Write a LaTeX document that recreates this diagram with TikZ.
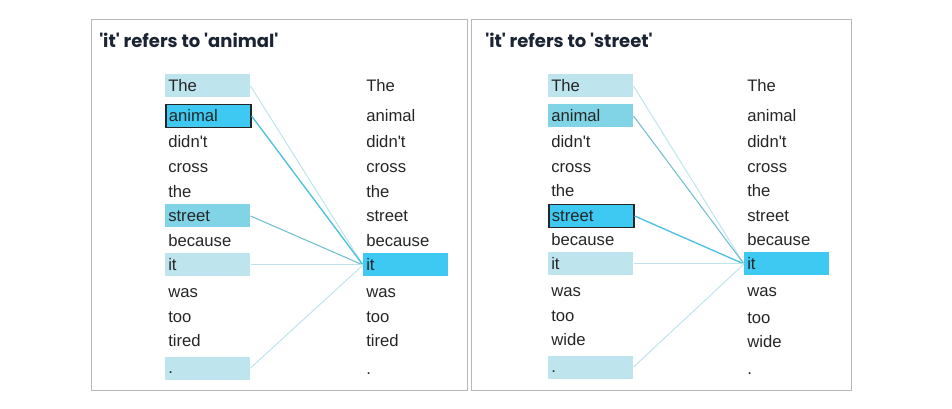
\documentclass[tikz,border=0pt]{standalone}
\usepackage{fontspec}
\setmainfont{Liberation Sans}
\newfontfamily\titlefont{Poppins}
\definecolor{palecyan}{HTML}{BEE5ED}
\definecolor{midcyan}{HTML}{80D4E5}
\definecolor{brightcyan}{HTML}{3DC9F2}
\definecolor{linkcyan}{HTML}{4CC0DF}
\definecolor{titleblue}{HTML}{1B2433}
\newcommand{\sq}{\textquotesingle}
\tikzset{
  panel/.style={draw=black!28,line width=0.75pt},
  heading/.style={anchor=west,inner sep=0pt,text=titleblue,font=\titlefont\bfseries\fontsize{13.5}{16}\selectfont},
  word/.style={anchor=west,inner xsep=2.25pt,inner ysep=2.875pt,text width=59.25pt,align=left,
    text height=10.1pt,text depth=1.4pt,text=black!85,font=\fontsize{12.5}{14}\selectfont},
  chosen/.style={draw=black!85,line width=1.2pt},
  faint/.style={palecyan,line width=0.75pt},
  medium/.style={midcyan!90!black,line width=0.8pt},
  strong/.style={linkcyan,line width=1pt}
}
\begin{document}
\begin{tikzpicture}[x=0.75pt,y=-0.75pt]
\useasboundingbox (0,0) rectangle (952,409);
\draw[panel] (91,20) rectangle (467,390);
\draw[panel] (471,20) rectangle (851,390);
\node[heading] (headA) at (99,40) {\sq it\sq{} refers to \sq animal\sq};
\node[heading] (headB) at (485,40) {\sq it\sq{} refers to \sq street\sq};

% left panel: source column
\node[word,fill=palecyan] (aThe) at (165,86) {The};
\node[word,fill=brightcyan,chosen] (aAnimal) at (165,116) {animal};
\node[word] (aDidnt) at (165,142) {didn\sq t};
\node[word] (aCross) at (165,167) {cross};
\node[word] (aThe2) at (165,192) {the};
\node[word,fill=midcyan] (aStreet) at (165,216) {street};
\node[word] (aBecause) at (165,241) {because};
\node[word,fill=palecyan] (aIt) at (165,265) {it};
\node[word] (aWas) at (165,292) {was};
\node[word] (aToo) at (165,317) {too};
\node[word] (aTired) at (165,341) {tired};
\node[word,fill=palecyan] (aDot) at (165,368) {.};
% left panel: target column
\node[word] (bThe) at (363,86) {The};
\node[word] (bAnimal) at (363,116) {animal};
\node[word] (bDidnt) at (363,142) {didn\sq t};
\node[word] (bCross) at (363,167) {cross};
\node[word] (bThe2) at (363,192) {the};
\node[word] (bStreet) at (363,216) {street};
\node[word] (bBecause) at (363,241) {because};
\node[word,fill=brightcyan] (bIt) at (363,265) {it};
\node[word] (bWas) at (363,292) {was};
\node[word] (bToo) at (363,317) {too};
\node[word] (bTired) at (363,341) {tired};
\node[word] (bDot) at (363,369) {.};
\draw[faint] (aThe.east) -- (bIt.west);
\draw[strong] (aAnimal.east) -- (bIt.west);
\draw[medium] (aStreet.east) -- (bIt.west);
\draw[faint] (aIt.east) -- (bIt.west);
\draw[faint] (aDot.east) -- (bIt.west);

% right panel: source column
\node[word,fill=palecyan] (cThe) at (548,86) {The};
\node[word,fill=midcyan] (cAnimal) at (548,116) {animal};
\node[word] (cDidnt) at (548,142) {didn\sq t};
\node[word] (cCross) at (548,167) {cross};
\node[word] (cThe2) at (548,191) {the};
\node[word,fill=brightcyan,chosen] (cStreet) at (548,216) {street};
\node[word] (cBecause) at (548,240) {because};
\node[word,fill=palecyan] (cIt) at (548,264) {it};
\node[word] (cWas) at (548,291) {was};
\node[word] (cToo) at (548,316) {too};
\node[word] (cWide) at (548,340) {wide};
\node[word,fill=palecyan] (cDot) at (548,367) {.};
% right panel: target column
\node[word] (dThe) at (744,86) {The};
\node[word] (dAnimal) at (744,116) {animal};
\node[word] (dDidnt) at (744,142) {didn\sq t};
\node[word] (dCross) at (744,167) {cross};
\node[word] (dThe2) at (744,191) {the};
\node[word] (dStreet) at (744,216) {street};
\node[word] (dBecause) at (744,240) {because};
\node[word,fill=brightcyan] (dIt) at (744,264) {it};
\node[word] (dWas) at (744,291) {was};
\node[word] (dToo) at (744,318) {too};
\node[word] (dWide) at (744,342) {wide};
\node[word] (dDot) at (744,369) {.};
\draw[faint] (cThe.east) -- (dIt.west);
\draw[medium] (cAnimal.east) -- (dIt.west);
\draw[strong] (cStreet.east) -- (dIt.west);
\draw[faint] (cIt.east) -- (dIt.west);
\draw[faint] (cDot.east) -- (dIt.west);
\end{tikzpicture}
\end{document}
